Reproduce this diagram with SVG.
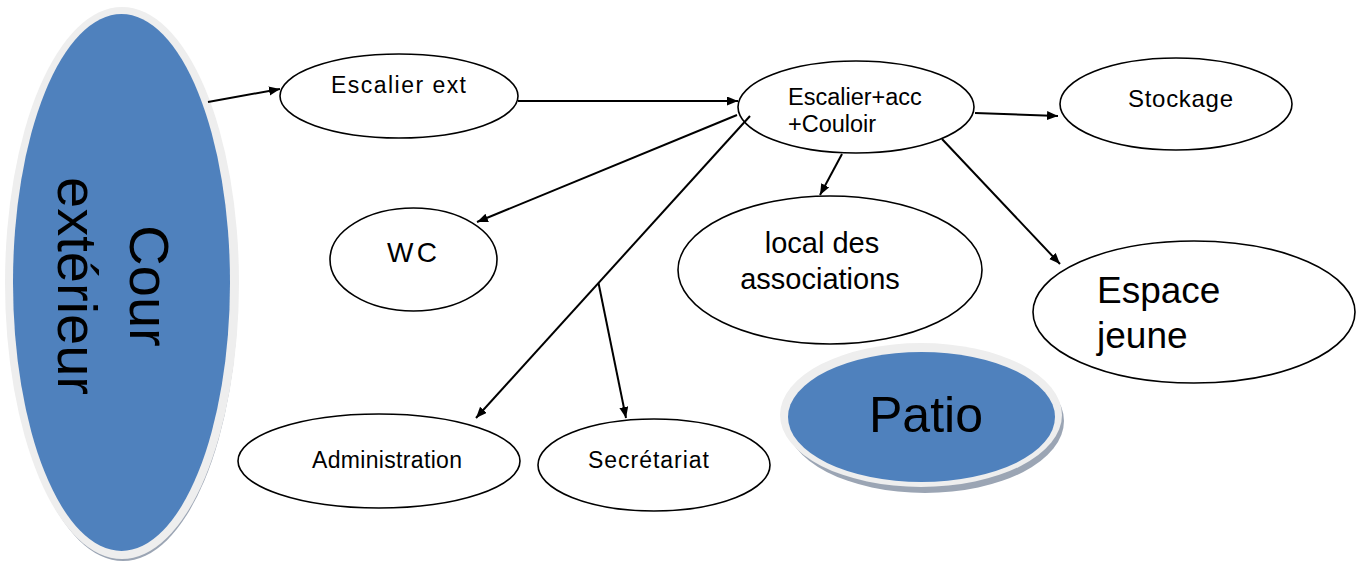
<svg xmlns="http://www.w3.org/2000/svg" width="1367" height="561" viewBox="0 0 1367 561">
<style>
.node{fill:#ffffff;stroke:#000000;stroke-width:1.6}
.blue{fill:#4f81bd}
.halo{fill:#eeeeee}
.shadow{fill:#9ba5b4}
.t{font-family:"Liberation Sans",Arial,sans-serif;fill:#000000}
.conn{stroke:#000000;stroke-width:2;fill:none}
</style>
<defs>
<marker id="arr" markerUnits="userSpaceOnUse" markerWidth="12" markerHeight="10" refX="11" refY="4.5" orient="auto">
<path d="M0,0 L11,4.5 L0,9 z" fill="#000000"/>
</marker>
</defs>
<rect width="1367" height="561" fill="#ffffff"/>
<g id="cour">
<ellipse class="shadow" cx="123" cy="287" rx="115" ry="274"/>
<ellipse class="halo" cx="122" cy="283" rx="117" ry="276"/>
<ellipse class="blue" cx="121.5" cy="282.5" rx="108.5" ry="268.5"/>
<text class="t" font-size="56" text-anchor="middle" transform="translate(130,286) rotate(90)"><tspan x="0" y="0">Cour</tspan><tspan x="0" y="72">extérieur</tspan></text>
</g>
<g id="escalier-ext">
<ellipse class="node" cx="399" cy="96" rx="119" ry="42"/>
<text class="t" font-size="23" x="331" y="93" textLength="135">Escalier ext</text>
</g>
<g id="escalier-acc">
<ellipse class="node" cx="856" cy="107" rx="118" ry="46"/>
<text class="t" font-size="23.5"><tspan x="788" y="105">Escalier+acc</tspan><tspan x="788" y="132">+Couloir</tspan></text>
</g>
<g id="stockage">
<ellipse class="node" cx="1176" cy="104" rx="116" ry="46"/>
<text class="t" font-size="24" x="1128" y="107" textLength="105">Stockage</text>
</g>
<g id="wc">
<ellipse class="node" cx="413.5" cy="259.5" rx="83.5" ry="51.5"/>
<text class="t" font-size="28" x="387" y="262" textLength="50">WC</text>
</g>
<g id="local">
<ellipse class="node" cx="830" cy="270" rx="152" ry="74"/>
<text class="t" font-size="29" text-anchor="middle"><tspan x="822" y="253">local des</tspan><tspan x="820" y="289">associations</tspan></text>
</g>
<g id="espace-jeune">
<ellipse class="node" cx="1194" cy="312" rx="161" ry="71"/>
<text class="t" font-size="37"><tspan x="1097" y="303">Espace</tspan><tspan x="1097" y="348">jeune</tspan></text>
</g>
<g id="patio">
<ellipse class="shadow" cx="925" cy="421" rx="139" ry="72"/>
<ellipse class="halo" cx="921" cy="415" rx="141" ry="72"/>
<ellipse class="blue" cx="921.5" cy="417" rx="133.5" ry="65"/>
<text class="t" font-size="50" x="926" y="432" text-anchor="middle">Patio</text>
</g>
<g id="administration">
<ellipse class="node" cx="379" cy="461" rx="141" ry="47"/>
<text class="t" font-size="23" x="312" y="468" textLength="150">Administration</text>
</g>
<g id="secretariat">
<ellipse class="node" cx="654" cy="465" rx="116" ry="46"/>
<text class="t" font-size="23" x="588" y="468" textLength="121">Secrétariat</text>
</g>
<g id="connectors">
<line class="conn" x1="208" y1="102" x2="280" y2="89" marker-end="url(#arr)"/>
<line class="conn" x1="518" y1="101" x2="738" y2="101" marker-end="url(#arr)"/>
<line class="conn" x1="975" y1="113" x2="1058" y2="116" marker-end="url(#arr)"/>
<line class="conn" x1="842" y1="154" x2="820" y2="195" marker-end="url(#arr)"/>
<line class="conn" x1="942" y1="139" x2="1060" y2="264" marker-end="url(#arr)"/>
<line class="conn" x1="737" y1="115" x2="477" y2="222" marker-end="url(#arr)"/>
<line class="conn" x1="750" y1="116" x2="476" y2="418" marker-end="url(#arr)"/>
<line class="conn" x1="598.5" y1="283" x2="626" y2="418" marker-end="url(#arr)"/>
</g>
</svg>
